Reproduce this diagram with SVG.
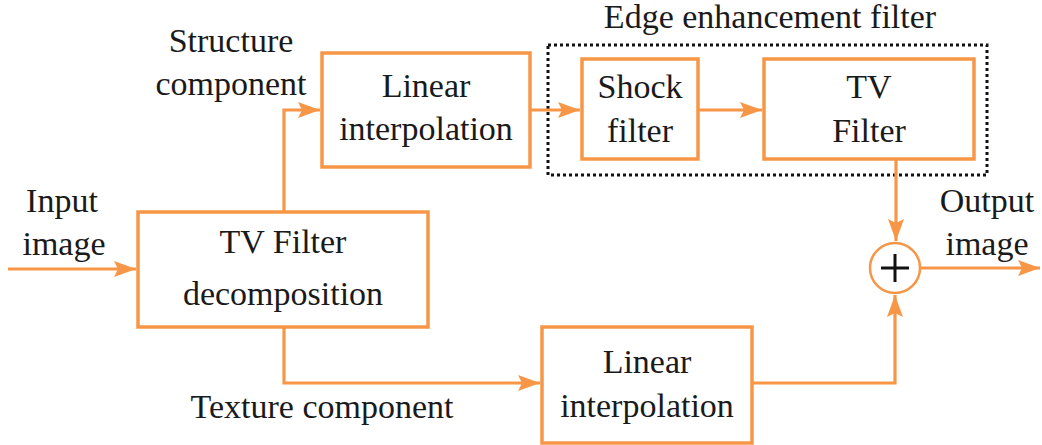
<svg xmlns="http://www.w3.org/2000/svg" width="1042" height="445" viewBox="0 0 1042 445">
<style>
.box{fill:#fff;stroke:#F79646;stroke-width:3.5}
.ln{fill:none;stroke:#F79646;stroke-width:3.2}
text{font-family:'Liberation Serif','DejaVu Serif',serif;font-size:34px;fill:#1a1a1a;text-anchor:middle}
</style>
<defs>
<marker id="ah" markerUnits="userSpaceOnUse" markerWidth="24" markerHeight="18" refX="22" refY="9" orient="auto">
<path d="M0,1 L22,9 L0,17 L4,9 Z" fill="#F79646"/>
</marker>
</defs>
<rect x="548" y="45" width="439" height="130" fill="none" stroke="#111" stroke-width="3" stroke-dasharray="3,3"/>
<text x="770" y="28" font-family="Liberation Serif, serif">Edge enhancement filter</text>
<g id="connectors">
<path class="ln" d="M8,269 H136" marker-end="url(#ah)"/>
<path class="ln" d="M284,211 V110 H320" marker-end="url(#ah)"/>
<path class="ln" d="M530,110 H580" marker-end="url(#ah)"/>
<path class="ln" d="M698,110 H762" marker-end="url(#ah)"/>
<path class="ln" d="M896,159 V241" marker-end="url(#ah)"/>
<path class="ln" d="M284,327 V383 H540" marker-end="url(#ah)"/>
<path class="ln" d="M752,383 H895 V295" marker-end="url(#ah)"/>
<path class="ln" d="M921,268 H1040" marker-end="url(#ah)"/>
</g>
<g id="input"><text x="62" y="212">Input</text><text x="64" y="255">image</text></g>
<g id="structure"><text x="231" y="52">Structure</text><text x="231" y="95">component</text></g>
<g id="texture"><text x="322" y="418">Texture component</text></g>
<g id="output"><text x="987" y="212">Output</text><text x="987" y="255">image</text></g>
<g id="tvdecomp"><rect class="box" x="138" y="212" width="290" height="115"/><text x="283" y="253">TV Filter</text><text x="283" y="305">decomposition</text></g>
<g id="lin1"><rect class="box" x="322" y="53" width="208" height="114"/><text x="426" y="97">Linear</text><text x="426" y="140">interpolation</text></g>
<g id="shock"><rect class="box" x="582" y="59" width="116" height="100"/><text x="640" y="98">Shock</text><text x="640" y="142">filter</text></g>
<g id="tvfilter"><rect class="box" x="764" y="59" width="210" height="100"/><text x="869" y="98">TV</text><text x="869" y="142">Filter</text></g>
<g id="lin2"><rect class="box" x="542" y="327" width="210" height="116"/><text x="647" y="373">Linear</text><text x="647" y="417">interpolation</text></g>
<g id="sum"><circle cx="895" cy="268" r="25" fill="#fff" stroke="#F79646" stroke-width="2.5"/><path d="M881,268 H909 M895,254 V282" stroke="#111" stroke-width="3"/></g>
</svg>
